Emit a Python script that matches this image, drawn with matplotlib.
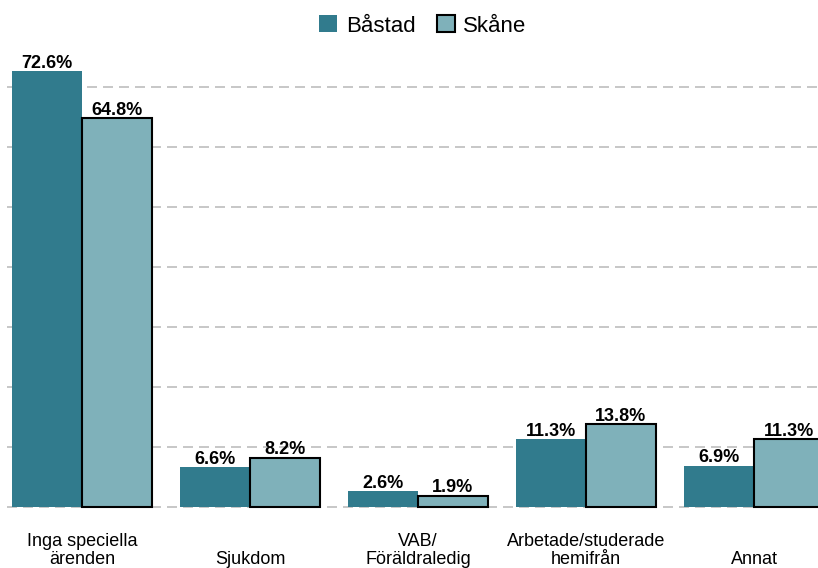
import matplotlib
matplotlib.use("Agg")
import matplotlib.pyplot as plt
import matplotlib.transforms as mtransforms
from matplotlib.patches import Patch
import numpy as np

plt.rcParams['font.family'] = ['Liberation Sans', 'DejaVu Sans']

categories = ["Inga speciella\närenden", "Sjukdom", "VAB/\nFöräldraledig",
              "Arbetade/studerade\nhemifrån", "Annat"]
series_names = ["Båstad", "Skåne"]
bastad = [72.6, 6.6, 2.6, 11.3, 6.9]
skane = [64.8, 8.2, 1.9, 13.8, 11.3]
yticks = [0, 10, 20, 30, 40, 50, 60, 70]

c_bastad = "#317b8d"
c_skane = "#7fb1ba"

W, H = 818, 568
fig = plt.figure(figsize=(W / 100, H / 100), dpi=100)

# axes placement in pixels
ax_left, ax_right = 7, 818
ax_top, ax_bottom = 40, 510
ax = fig.add_axes([ax_left / W, 1 - ax_bottom / H, (ax_right - ax_left) / W, (ax_bottom - ax_top) / H])

x = np.arange(len(categories))
bw = 0.415
ax.bar(x - bw / 2, bastad, width=bw, color=c_bastad, edgecolor='none', zorder=2)
ax.bar(x + bw / 2, skane, width=bw, color=c_skane, edgecolor='black', linewidth=1.5, zorder=2)

# scales: category i at pixel 82 + 168*i ; 0% at pixel 507, 6 px per %
x0 = (ax_left - 82) / 168
x1 = (ax_right - 82) / 168
ax.set_xlim(x0, x1)
ax.set_ylim(-(ax_bottom - 507) / 6, (507 - ax_top) / 6)

for yv in yticks:
    ax.axhline(yv, color='#bdbdbd', linewidth=1.2, linestyle=(0, (6, 3.6)), zorder=1)

for xi, v in zip(x - bw / 2, bastad):
    ax.annotate(f"{v:.1f}%", (xi, v), xytext=(0, 2.6), textcoords='offset points',
                ha='center', va='baseline', fontsize=13, fontweight='bold', zorder=3)
for xi, v in zip(x + bw / 2, skane):
    ax.annotate(f"{v:.1f}%", (xi, v), xytext=(0, 2.6), textcoords='offset points',
                ha='center', va='baseline', fontsize=13, fontweight='bold', zorder=3,
                annotation_clip=False)

for s in ax.spines.values():
    s.set_visible(False)
ax.set_xticks([])
ax.set_yticks([])

# category labels, bottom aligned: last line baseline at 564 px, 18 px line step
trans = mtransforms.blended_transform_factory(ax.transData, fig.transFigure)
for xi, lab in zip(x, categories):
    lines = lab.split("\n")
    n = len(lines)
    for k, line in enumerate(lines):
        ypix = 564 - 18 * (n - 1 - k)
        ax.text(xi, 1 - ypix / H, line, transform=trans, ha='center', va='baseline',
                fontsize=13, clip_on=False)

handles = [Patch(facecolor=c_bastad, edgecolor='none'),
           Patch(facecolor=c_skane, edgecolor='black', linewidth=1.5)]
fig.legend(handles, series_names, loc='center', bbox_to_anchor=(423 / W, 1 - 26 / H),
           ncol=2, frameon=False, fontsize=16, handlelength=0.8, handleheight=0.8,
           handletextpad=0.4, columnspacing=0.95)

fig.savefig("out.png", dpi=100)
